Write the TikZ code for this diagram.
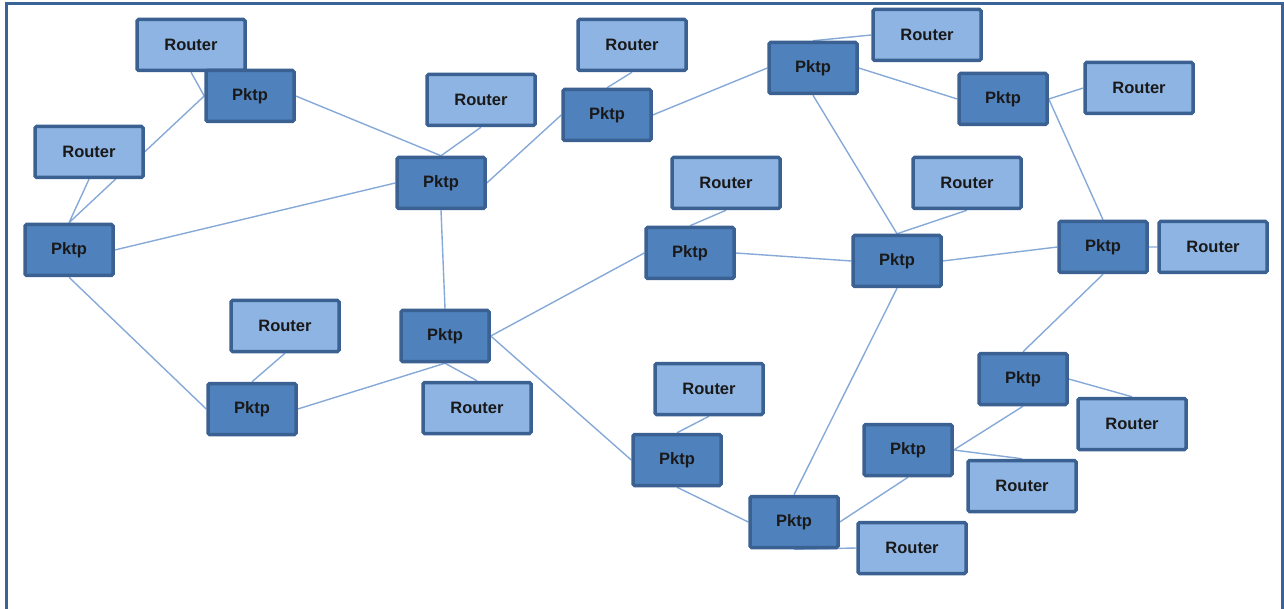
\documentclass[tikz,border=0pt]{standalone}
\usepackage{fontspec}
\setmainfont{Liberation Sans}
\pgfdeclarelayer{links}
\pgfsetlayers{links,main}
\begin{document}
\begin{tikzpicture}[x=1pt,y=-1pt,
  box/.style={draw=boxline,line width=3.5pt,rounded corners=1.5pt,inner sep=0pt,
    minimum height=51pt,font=\fontsize{16.5}{18}\selectfont\bfseries,text=black!90},
  pktp/.style={box,fill=pktpfill,minimum width=88pt},
  router/.style={box,fill=routerfill,minimum width=108pt},
  link/.style={draw=linkblue,line width=1.4pt}]
\definecolor{pktpfill}{HTML}{4F81BD}
\definecolor{routerfill}{HTML}{8EB4E3}
\definecolor{boxline}{HTML}{3A6192}
\definecolor{linkblue}{HTML}{86A9D8}
\definecolor{framec}{HTML}{3A6498}
\useasboundingbox (0,0) rectangle (1284,609);
% open frame
\draw[framec,line width=3pt] (6,612) -- (6,4) -- (1282,4) -- (1282,612);

% routers
\node[router] (r1)  at (191,45)  {Router};
\node[router] (r2)  at (89,152)  {Router};
\node[router] (r3)  at (481,100) {Router};
\node[router] (r4)  at (632,45)  {Router};
\node[router] (r5)  at (927,35)  {Router};
\node[router] (r6)  at (1139,88) {Router};
\node[router] (r7)  at (726,183) {Router};
\node[router] (r8)  at (967,183) {Router};
\node[router] (r9)  at (1213,247) {Router};
\node[router] (r10) at (285,326) {Router};
\node[router] (r11) at (477,408) {Router};
\node[router] (r12) at (709,389) {Router};
\node[router] (r13) at (1132,424) {Router};
\node[router] (r14) at (1022,486) {Router};
\node[router] (r15) at (912,548) {Router};

% packet nodes
\node[pktp] (p1)  at (250,96)  {Pktp};
\node[pktp] (p2)  at (69,250)  {Pktp};
\node[pktp] (p3)  at (441,183) {Pktp};
\node[pktp] (p4)  at (607,115) {Pktp};
\node[pktp] (p5)  at (813,68)  {Pktp};
\node[pktp] (p6)  at (1003,99) {Pktp};
\node[pktp] (p7)  at (690,253) {Pktp};
\node[pktp] (p8)  at (897,261) {Pktp};
\node[pktp] (p9)  at (1103,247) {Pktp};
\node[pktp] (p10) at (445,336) {Pktp};
\node[pktp] (p11) at (252,409) {Pktp};
\node[pktp] (p12) at (677,460) {Pktp};
\node[pktp] (p13) at (794,522) {Pktp};
\node[pktp] (p14) at (1023,379) {Pktp};
\node[pktp] (p15) at (908,450) {Pktp};

% links, drawn underneath the boxes
\begin{pgfonlayer}{links}
\path[link]
  (p2.north) -- (r2.south)
  (p2.north) -- (p1.west)
  (r1.south) -- (p1.west)
  (p1.east) -- (p3.north)
  (r3.south) -- (p3.north)
  (p2.east) -- (p3.west)
  (p3.east) -- (p4.west)
  (r4.south) -- (p4.north)
  (p4.east) -- (p5.west)
  (p5.north) -- (r5.west)
  (p5.east) -- (p6.west)
  (p6.east) -- (r6.west)
  (p5.south) -- (p8.north)
  (r8.south) -- (p8.north)
  (p6.east) -- (p9.north)
  (r7.south) -- (p7.north)
  (p7.east) -- (p8.west)
  (p8.east) -- (p9.west)
  (p9.east) -- (r9.west)
  (p3.south) -- (p10.north)
  (p10.east) -- (p7.west)
  (p10.east) -- (p12.west)
  (p10.south) -- (p11.east)
  (p10.south) -- (r11.north)
  (r10.south) -- (p11.north)
  (p2.south) -- (p11.west)
  (r12.south) -- (p12.north)
  (p12.south) -- (p13.west)
  (p13.north) -- (p8.south)
  (p13.east) -- (p15.south)
  (p13.south) -- (r15.west)
  (p15.east) -- (p14.south)
  (p15.east) -- (r14.north)
  (p14.east) -- (r13.north)
  (p9.south) -- (p14.north);
\end{pgfonlayer}
\end{tikzpicture}
\end{document}
